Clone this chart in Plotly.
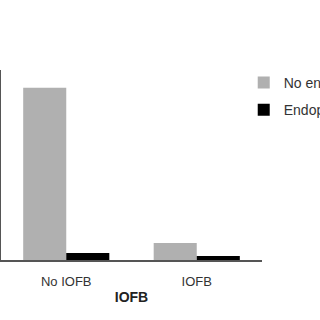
import plotly.graph_objects as go

categories = ["No IOFB", "IOFB"]
series_names = ["No endophthalmitis", "Endophthalmitis"]
no_endo = [136, 13.5]
endo = [5.5, 3.2]

fig = go.Figure()
fig.add_trace(go.Bar(x=categories, y=no_endo, name=series_names[0], legendgroup="a",
                     marker=dict(color="#b0b0b0", line=dict(width=0))))
fig.add_trace(go.Bar(x=categories, y=endo, name=series_names[1], legendgroup="b",
                     marker=dict(color="#000000", line=dict(width=0))))

fig.update_layout(
    width=320, height=320,
    margin=dict(l=1, r=58, t=70, b=60, autoexpand=False),
    paper_bgcolor="white", plot_bgcolor="white",
    barmode="group", bargap=0.34, bargroupgap=0,
    font=dict(family="Liberation Sans, Arial", size=14, color="#333333"),
    showlegend=True,
    legend=dict(x=0.93, xanchor="left", y=1.016, yanchor="top",
                xref="paper", yref="paper",
                font=dict(size=14, color="#333333"),
                itemwidth=30, tracegroupgap=6, bgcolor="rgba(0,0,0,0)"),
    xaxis=dict(showline=True, linecolor="#555555", linewidth=1.5,
               ticks="", tickfont=dict(size=13, color="#333333"), ticklabelstandoff=9,
               title=dict(text="<b>IOFB</b>", font=dict(size=14, color="#222222"), standoff=4),
               showgrid=False, zeroline=False),
    yaxis=dict(range=[0, 150], showline=True, linecolor="#555555", linewidth=2,
               showticklabels=False, ticks="", showgrid=False, zeroline=False),
)
fig.write_html("out.html")
